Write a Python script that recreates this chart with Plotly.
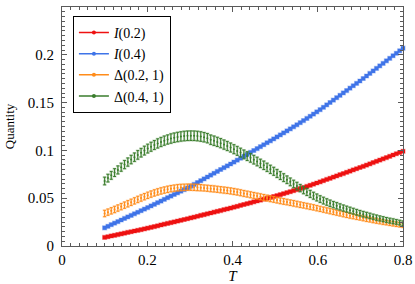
import plotly.graph_objects as go

n_pts = 91
T = [round(0.1 + i * 0.7 / (n_pts - 1), 5) for i in range(n_pts)]

I02 = [0.0090, 0.0097, 0.0105, 0.0112, 0.0120, 0.0127, 0.0134, 0.0142, 0.0149, 0.0157,
       0.0164, 0.0171, 0.0179, 0.0187, 0.0195, 0.0203, 0.0211, 0.0220, 0.0228, 0.0236,
       0.0244, 0.0252, 0.0261, 0.0269, 0.0277, 0.0285, 0.0294, 0.0302, 0.0311, 0.0320,
       0.0328, 0.0337, 0.0345, 0.0354, 0.0363, 0.0371, 0.0380, 0.0388, 0.0397, 0.0406,
       0.0415, 0.0425, 0.0434, 0.0443, 0.0452, 0.0462, 0.0471, 0.0480, 0.0490, 0.0499,
       0.0508, 0.0518, 0.0527, 0.0537, 0.0547, 0.0558, 0.0568, 0.0579, 0.0590, 0.0601,
       0.0612, 0.0623, 0.0635, 0.0647, 0.0659, 0.0671, 0.0683, 0.0696, 0.0708, 0.0721,
       0.0733, 0.0746, 0.0758, 0.0771, 0.0783, 0.0796, 0.0808, 0.0821, 0.0833, 0.0846,
       0.0859, 0.0873, 0.0886, 0.0899, 0.0912, 0.0925, 0.0938, 0.0952, 0.0965, 0.0978,
       0.0991]

I04 = [0.0190, 0.0206, 0.0223, 0.0239, 0.0255, 0.0272, 0.0288, 0.0304, 0.0320, 0.0337,
       0.0353, 0.0369, 0.0386, 0.0402, 0.0419, 0.0436, 0.0453, 0.0470, 0.0488, 0.0505,
       0.0522, 0.0539, 0.0556, 0.0573, 0.0590, 0.0607, 0.0625, 0.0644, 0.0664, 0.0683,
       0.0702, 0.0722, 0.0741, 0.0761, 0.0780, 0.0800, 0.0819, 0.0838, 0.0858, 0.0878,
       0.0898, 0.0918, 0.0938, 0.0958, 0.0979, 0.0999, 0.1019, 0.1039, 0.1059, 0.1080,
       0.1100, 0.1120, 0.1141, 0.1162, 0.1183, 0.1204, 0.1225, 0.1247, 0.1268, 0.1290,
       0.1312, 0.1334, 0.1357, 0.1380, 0.1403, 0.1426, 0.1451, 0.1476, 0.1501, 0.1526,
       0.1551, 0.1576, 0.1601, 0.1626, 0.1651, 0.1676, 0.1701, 0.1726, 0.1752, 0.1778,
       0.1805, 0.1831, 0.1858, 0.1884, 0.1910, 0.1937, 0.1963, 0.1990, 0.2016, 0.2042,
       0.2069]

D02 = [0.0340, 0.0354, 0.0368, 0.0382, 0.0397, 0.0412, 0.0427, 0.0442, 0.0457, 0.0472,
       0.0487, 0.0502, 0.0516, 0.0530, 0.0543, 0.0555, 0.0566, 0.0576, 0.0585, 0.0593,
       0.0600, 0.0605, 0.0609, 0.0612, 0.0614, 0.0615, 0.0615, 0.0614, 0.0612, 0.0610,
       0.0607, 0.0604, 0.0600, 0.0597, 0.0593, 0.0589, 0.0585, 0.0581, 0.0576, 0.0570,
       0.0564, 0.0557, 0.0550, 0.0543, 0.0536, 0.0529, 0.0522, 0.0515, 0.0508, 0.0501,
       0.0494, 0.0487, 0.0480, 0.0473, 0.0466, 0.0460, 0.0453, 0.0446, 0.0439, 0.0432,
       0.0425, 0.0418, 0.0411, 0.0404, 0.0396, 0.0388, 0.0380, 0.0372, 0.0364, 0.0356,
       0.0348, 0.0340, 0.0332, 0.0324, 0.0317, 0.0310, 0.0303, 0.0296, 0.0289, 0.0282,
       0.0275, 0.0268, 0.0262, 0.0256, 0.0250, 0.0244, 0.0238, 0.0232, 0.0227, 0.0222,
       0.0217]

D02_err = [0.0033, 0.0033, 0.0033, 0.0033, 0.0033, 0.0033, 0.0033, 0.0033, 0.0033, 0.0033,
           0.0033, 0.0033, 0.0033, 0.0033, 0.0033, 0.0033, 0.0033, 0.0033, 0.0033, 0.0033,
           0.0033, 0.0033, 0.0033, 0.0033, 0.0033, 0.0033, 0.0033, 0.0033, 0.0033, 0.0033,
           0.0032, 0.0032, 0.0032, 0.0032, 0.0032, 0.0032, 0.0032, 0.0032, 0.0032, 0.0032,
           0.0031, 0.0031, 0.0031, 0.0031, 0.0031, 0.0031, 0.0031, 0.0031, 0.0031, 0.0031,
           0.0030, 0.0030, 0.0030, 0.0030, 0.0030, 0.0029, 0.0029, 0.0029, 0.0029, 0.0029,
           0.0028, 0.0028, 0.0028, 0.0028, 0.0028, 0.0027, 0.0027, 0.0027, 0.0027, 0.0027,
           0.0026, 0.0026, 0.0026, 0.0026, 0.0026, 0.0025, 0.0025, 0.0025, 0.0025, 0.0025,
           0.0024, 0.0024, 0.0024, 0.0024, 0.0024, 0.0023, 0.0023, 0.0023, 0.0023, 0.0023,
           0.0023]

D04 = [0.0680, 0.0710, 0.0739, 0.0768, 0.0796, 0.0824, 0.0852, 0.0878, 0.0904, 0.0929,
       0.0953, 0.0976, 0.0998, 0.1019, 0.1038, 0.1056, 0.1073, 0.1088, 0.1102, 0.1114,
       0.1124, 0.1133, 0.1140, 0.1146, 0.1150, 0.1153, 0.1154, 0.1153, 0.1150, 0.1145,
       0.1138, 0.1128, 0.1112, 0.1101, 0.1089, 0.1076, 0.1061, 0.1046, 0.1030, 0.1013,
       0.0995, 0.0977, 0.0958, 0.0940, 0.0922, 0.0903, 0.0884, 0.0864, 0.0844, 0.0823,
       0.0802, 0.0781, 0.0759, 0.0737, 0.0715, 0.0693, 0.0671, 0.0649, 0.0627, 0.0606,
       0.0585, 0.0565, 0.0545, 0.0526, 0.0508, 0.0491, 0.0475, 0.0460, 0.0446, 0.0433,
       0.0421, 0.0409, 0.0397, 0.0386, 0.0375, 0.0364, 0.0353, 0.0343, 0.0333, 0.0324,
       0.0315, 0.0306, 0.0297, 0.0289, 0.0281, 0.0273, 0.0266, 0.0259, 0.0252, 0.0245,
       0.0238]

D04_err = [0.0040, 0.0040, 0.0041, 0.0041, 0.0042, 0.0042, 0.0043, 0.0043, 0.0044, 0.0044,
           0.0045, 0.0045, 0.0046, 0.0046, 0.0047, 0.0047, 0.0048, 0.0048, 0.0048, 0.0048,
           0.0049, 0.0049, 0.0049, 0.0049, 0.0050, 0.0050, 0.0050, 0.0050, 0.0050, 0.0050,
           0.0049, 0.0049, 0.0049, 0.0049, 0.0048, 0.0048, 0.0048, 0.0048, 0.0047, 0.0047,
           0.0047, 0.0046, 0.0046, 0.0046, 0.0045, 0.0045, 0.0045, 0.0044, 0.0044, 0.0043,
           0.0043, 0.0042, 0.0042, 0.0041, 0.0041, 0.0040, 0.0040, 0.0039, 0.0039, 0.0038,
           0.0038, 0.0037, 0.0037, 0.0036, 0.0036, 0.0035, 0.0035, 0.0034, 0.0034, 0.0033,
           0.0033, 0.0032, 0.0032, 0.0031, 0.0031, 0.0030, 0.0030, 0.0029, 0.0029, 0.0028,
           0.0028, 0.0027, 0.0027, 0.0026, 0.0026, 0.0025, 0.0025, 0.0025, 0.0024, 0.0024,
           0.0024]

x_ticks = [0, 0.2, 0.4, 0.6, 0.8]
x_ticklabels = ["0", "0.2", "0.4", "0.6", "0.8"]
y_ticks = [0, 0.05, 0.1, 0.15, 0.2, 0.25]
y_ticklabels = ["0", "0.05", "0.1", "0.15", "0.2", "0.25"]

labels = ["<i>I</i>(0.2)", "<i>I</i>(0.4)", "Δ(0.2, 1)", "Δ(0.4, 1)"]
colors = ["#ee1111", "#3f74e8", "#ff8c1a", "#3a7d2c"]
halos = ["rgba(238,17,17,0.35)", "rgba(63,116,232,0.35)",
         "rgba(255,140,26,0.3)", "rgba(58,125,44,0.3)"]

series = [I02, I04, D02, D04]
errors = [None, None, D02_err, D04_err]

SERIF = "Liberation Serif"
AX = "#5a5a5a"

fig = go.Figure()
for k in range(4):
    if errors[k] is None:
        fig.add_trace(go.Scatter(
            x=T, y=series[k], mode="markers", showlegend=False, cliponaxis=False,
            marker=dict(symbol="square", size=4, color=colors[k],
                        line=dict(width=1.2, color=halos[k]))))
    else:
        fig.add_trace(go.Scatter(
            x=T, y=series[k], mode="markers", showlegend=False, cliponaxis=False,
            marker=dict(size=1, color=halos[k]),
            error_y=dict(type="data", array=errors[k], visible=True,
                         color=halos[k], thickness=2, width=2)))
        fig.add_trace(go.Scatter(
            x=T, y=series[k], mode="markers", showlegend=False, cliponaxis=False,
            marker=dict(size=2, color=colors[k]),
            error_y=dict(type="data", array=errors[k], visible=True,
                         color=colors[k], thickness=1, width=1.4)))

for k in range(4):
    fig.add_trace(go.Scatter(
        x=[None], y=[None], mode="lines+markers", name=labels[k],
        line=dict(color=colors[k], width=1.5),
        marker=dict(size=4, color=colors[k])))

axis_common = dict(
    showline=True, linecolor=AX, linewidth=1.2, mirror="ticks",
    ticks="inside", ticklen=5, tickcolor=AX, tickwidth=1,
    showgrid=False, zeroline=False, automargin=False,
    tickfont=dict(family=SERIF, size=15, color="black"),
)

fig.update_layout(
    width=415, height=284,
    margin=dict(l=62, r=12, t=7, b=38),
    paper_bgcolor="white", plot_bgcolor="white",
    font=dict(family=SERIF, size=15, color="black"),
    xaxis=dict(range=[0, 0.8], tickvals=x_ticks, ticktext=x_ticklabels,
               ticklabelstandoff=0,
               minor=dict(dtick=0.02, tick0=0, ticks="inside", ticklen=2.5,
                          tickcolor=AX, showgrid=False),
               title=dict(text="<i>T</i>", font=dict(family=SERIF, size=15),
                          standoff=9),
               **axis_common),
    yaxis=dict(range=[0, 0.25], tickvals=y_ticks, ticktext=y_ticklabels,
               ticklabelstandoff=4,
               minor=dict(dtick=0.005, tick0=0, ticks="inside", ticklen=2.5,
                          tickcolor=AX, showgrid=False),
               title=dict(text="Quantity", font=dict(family=SERIF, size=13),
                          standoff=10),
               **axis_common),
    legend=dict(x=0.032, y=0.963, xanchor="left", yanchor="top",
                bgcolor="white", bordercolor="black", borderwidth=1,
                font=dict(family=SERIF, size=14), tracegroupgap=0,
                itemwidth=30),
    showlegend=True,
)

fig.write_html("out.html", config={"displayModeBar": False},
               post_script="document.body.style.margin='0px';")
